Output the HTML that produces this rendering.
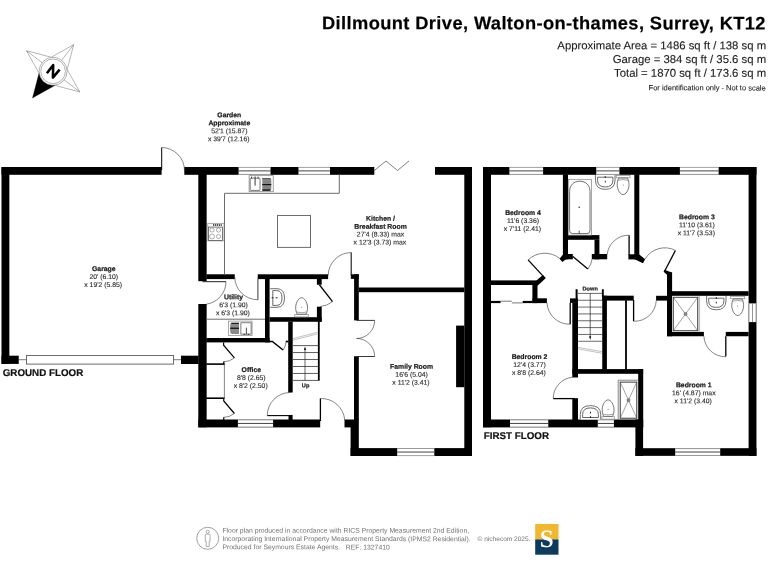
<!DOCTYPE html>
<html>
<head>
<meta charset="utf-8">
<title>Floor plan - Dillmount Drive</title>
<style>
  html, body { margin: 0; padding: 0; background: #fff; }
  body { width: 768px; height: 576px; position: relative; overflow: hidden;
         font-family: "Liberation Sans", sans-serif; color: #111; }
  svg { position: absolute; left: 0; top: 0; }
  svg.mono { filter: grayscale(1) blur(0.3px); }
  svg text { font-family: "Liberation Sans", sans-serif; text-rendering: geometricPrecision; }
</style>
</head>
<body>
<svg width="768" height="576" viewBox="0 0 768 576">
<g id="logo">
<rect x="535.20" y="524.00" width="23.30" height="15.40" fill="#F1B82D" />
<rect x="535.20" y="539.40" width="23.30" height="15.30" fill="#0D3B5E" />
</g>
</svg>
<svg class="mono" width="768" height="576" viewBox="0 0 768 576">
<g id="compass">
<polygon points="73.71,44.64 67.18,69.50 79.76,91.91 54.90,85.38 32.49,97.96 39.02,73.10 26.44,50.69 51.30,57.22" fill="#fff" stroke="#6a6a6a" stroke-width="0.5"/>
<line x1="53.10" y1="71.30" x2="73.71" y2="44.64" stroke="#6a6a6a" stroke-width="0.5" />
<line x1="53.10" y1="71.30" x2="79.76" y2="91.91" stroke="#6a6a6a" stroke-width="0.5" />
<line x1="53.10" y1="71.30" x2="32.49" y2="97.96" stroke="#6a6a6a" stroke-width="0.5" />
<line x1="53.10" y1="71.30" x2="26.44" y2="50.69" stroke="#6a6a6a" stroke-width="0.5" />
<polygon points="32.49,97.96 54.90,85.38 53.10,71.30 39.02,73.10" fill="#000"/>
<circle cx="53.1" cy="71.3" r="14.0" fill="#fff" stroke="#666" stroke-width="0.5"/>
<circle cx="53.1" cy="71.3" r="12.3" fill="#fff" stroke="#666" stroke-width="0.5"/>
<path d="M46.9 73.2 L53.2 65.1 L52.9 77.6 L59.6 69.6" stroke="#000" stroke-width="2.5" fill="none" stroke-linejoin="round" stroke-linecap="butt"/>
</g>
<g id="plan" shape-rendering="geometricPrecision">
<rect x="1.50" y="167.00" width="160.10" height="7.80" fill="#000" />
<rect x="1.50" y="167.00" width="7.85" height="196.90" fill="#000" />
<rect x="1.50" y="355.70" width="17.25" height="8.20" fill="#000" />
<rect x="181.00" y="355.70" width="17.60" height="8.30" fill="#000" />
<rect x="26.5" y="355.5" width="147.1" height="8.6" fill="#fff" stroke="#555" stroke-width="0.85"/>
<line x1="18.75" y1="359.70" x2="26.40" y2="359.70" stroke="#444" stroke-width="0.7" />
<line x1="173.60" y1="359.70" x2="181.00" y2="359.70" stroke="#444" stroke-width="0.7" />
<rect x="184.30" y="167.00" width="190.00" height="7.80" fill="#000" />
<rect x="238.60" y="167.00" width="31.90" height="7.80" fill="#fff" />
<line x1="238.60" y1="167.40" x2="270.50" y2="167.40" stroke="#777" stroke-width="0.7" />
<line x1="238.60" y1="170.90" x2="270.50" y2="170.90" stroke="#222" stroke-width="0.85" />
<line x1="238.60" y1="174.40" x2="270.50" y2="174.40" stroke="#777" stroke-width="0.7" />
<rect x="298.50" y="167.00" width="31.50" height="7.80" fill="#fff" />
<line x1="298.50" y1="167.40" x2="330.00" y2="167.40" stroke="#777" stroke-width="0.7" />
<line x1="298.50" y1="170.90" x2="330.00" y2="170.90" stroke="#222" stroke-width="0.85" />
<line x1="298.50" y1="174.40" x2="330.00" y2="174.40" stroke="#777" stroke-width="0.7" />
<rect x="435.00" y="167.00" width="37.00" height="7.80" fill="#000" />
<rect x="464.30" y="167.00" width="7.70" height="289.00" fill="#000" />
<rect x="198.30" y="173.80" width="8.35" height="107.40" fill="#000" />
<rect x="198.30" y="304.00" width="8.35" height="123.25" fill="#000" />
<rect x="198.30" y="419.50" width="121.90" height="7.90" fill="#000" />
<rect x="237.90" y="419.50" width="35.20" height="7.90" fill="#fff" />
<line x1="237.90" y1="419.90" x2="273.10" y2="419.90" stroke="#777" stroke-width="0.7" />
<line x1="237.90" y1="423.45" x2="273.10" y2="423.45" stroke="#222" stroke-width="0.85" />
<line x1="237.90" y1="427.00" x2="273.10" y2="427.00" stroke="#777" stroke-width="0.7" />
<rect x="344.50" y="419.50" width="14.30" height="7.90" fill="#000" />
<rect x="206.30" y="274.30" width="28.45" height="4.80" fill="#000" />
<rect x="257.70" y="274.30" width="70.40" height="4.80" fill="#000" />
<rect x="265.00" y="279.00" width="4.60" height="63.40" fill="#000" />
<rect x="206.30" y="338.00" width="63.30" height="4.40" fill="#000" />
<rect x="316.90" y="279.00" width="4.80" height="5.75" fill="#000" />
<rect x="316.90" y="306.70" width="4.80" height="15.00" fill="#000" />
<rect x="269.50" y="317.20" width="52.20" height="4.55" fill="#000" />
<rect x="288.20" y="321.60" width="4.50" height="70.90" fill="#000" />
<rect x="317.90" y="321.60" width="1.80" height="59.10" fill="#000" />
<rect x="288.50" y="415.00" width="4.10" height="5.00" fill="#000" />
<rect x="350.80" y="274.30" width="8.00" height="4.60" fill="#000" />
<rect x="354.10" y="274.30" width="4.70" height="46.10" fill="#000" />
<rect x="354.00" y="356.30" width="4.80" height="63.70" fill="#000" />
<rect x="358.75" y="287.50" width="105.65" height="4.70" fill="#000" />
<rect x="456.10" y="325.60" width="8.30" height="61.60" fill="#000" />
<rect x="350.60" y="448.10" width="121.40" height="7.90" fill="#000" />
<rect x="397.20" y="448.10" width="37.10" height="7.90" fill="#fff" />
<line x1="397.20" y1="448.50" x2="434.30" y2="448.50" stroke="#777" stroke-width="0.7" />
<line x1="397.20" y1="452.05" x2="434.30" y2="452.05" stroke="#222" stroke-width="0.85" />
<line x1="397.20" y1="455.60" x2="434.30" y2="455.60" stroke="#777" stroke-width="0.7" />
<rect x="350.60" y="426.90" width="8.20" height="29.10" fill="#000" />
<line x1="161.70" y1="147.50" x2="161.70" y2="170.00" stroke="#000" stroke-width="1.0" />
<path d="M161.6 147.5 A23 23 0 0 1 184.5 170.5" stroke="#3a3a3a" stroke-width="0.62" fill="none" />
<path d="M374.3 170.5 L386 161 L397.5 170.5 L409 161" stroke="#3a3a3a" stroke-width="0.65" fill="none" />
<line x1="202.50" y1="281.70" x2="226.00" y2="281.70" stroke="#222" stroke-width="1.0" />
<path d="M226 281.6 A23 23 0 0 1 206.3 304.2" stroke="#3a3a3a" stroke-width="0.62" fill="none" />
<line x1="257.90" y1="279.00" x2="257.90" y2="299.75" stroke="#222" stroke-width="0.9" />
<path d="M234.75 277 A23 23 0 0 0 257.9 299.75" stroke="#3a3a3a" stroke-width="0.62" fill="none" />
<line x1="351.20" y1="252.60" x2="351.20" y2="275.00" stroke="#111" stroke-width="1.1" />
<path d="M351.2 252.6 A23 23 0 0 0 328.2 275.5" stroke="#3a3a3a" stroke-width="0.62" fill="none" />
<line x1="319.40" y1="284.75" x2="332.50" y2="301.60" stroke="#000" stroke-width="1.3" />
<path d="M332.5 301.6 A21.3 21.3 0 0 1 320 306.5" stroke="#3a3a3a" stroke-width="0.62" fill="none" />
<line x1="356.50" y1="320.40" x2="374.70" y2="320.40" stroke="#222" stroke-width="0.9" />
<line x1="356.50" y1="356.50" x2="374.70" y2="356.50" stroke="#222" stroke-width="0.9" />
<path d="M374.7 320.4 A18.2 18.2 0 0 1 356.5 338.5" stroke="#3a3a3a" stroke-width="0.62" fill="none" />
<path d="M374.7 356.5 A18.2 18.2 0 0 0 356.5 338.4" stroke="#3a3a3a" stroke-width="0.62" fill="none" />
<line x1="320.40" y1="398.50" x2="320.40" y2="421.00" stroke="#000" stroke-width="1.3" />
<path d="M320.4 398.5 A23.5 23.5 0 0 1 344.75 420" stroke="#3a3a3a" stroke-width="0.62" fill="none" />
<line x1="267.25" y1="415.60" x2="290.50" y2="415.60" stroke="#000" stroke-width="1.1" />
<path d="M267.25 415.6 A23 23 0 0 1 290.5 392.5" stroke="#3a3a3a" stroke-width="0.62" fill="none" />
<path d="M269 341.4 L272.3 341.4 L283.1 350" stroke="#000" stroke-width="1.5" fill="none" />
<path d="M283.1 350 A15 15 0 0 0 286 341.6" stroke="#3a3a3a" stroke-width="0.62" fill="none" />
<line x1="285.80" y1="341.50" x2="288.40" y2="341.50" stroke="#000" stroke-width="1.7" />
<path d="M223.6 342.5 L223.6 345.2 L234.4 357.9" stroke="#000" stroke-width="1.2" fill="none" />
<path d="M234.4 357.9 A18 18 0 0 1 223.8 361.8" stroke="#3a3a3a" stroke-width="0.62" fill="none" />
<line x1="223.80" y1="361.60" x2="223.80" y2="364.80" stroke="#000" stroke-width="1.3" />
<line x1="206.30" y1="364.10" x2="224.50" y2="364.10" stroke="#000" stroke-width="1.6" />
<line x1="224.40" y1="364.10" x2="224.40" y2="398.30" stroke="#3a3a3a" stroke-width="0.62" />
<line x1="206.30" y1="398.20" x2="224.50" y2="398.20" stroke="#000" stroke-width="1.6" />
<path d="M223.75 398.5 L223.75 401 L234.4 413.5" stroke="#000" stroke-width="1.2" fill="none" />
<path d="M234.4 413.5 A18 18 0 0 1 223.75 417.4" stroke="#3a3a3a" stroke-width="0.62" fill="none" />
<line x1="223.75" y1="417.20" x2="223.75" y2="420.00" stroke="#000" stroke-width="1.2" />
<path d="M339.3 174.6 L339.3 193.3 L224.5 193.3 L224.5 274.5" stroke="#6c6c6c" stroke-width="1.0" fill="none" />
<line x1="206.30" y1="319.20" x2="265.00" y2="319.20" stroke="#6c6c6c" stroke-width="1.0" />
<rect x="277.5" y="215.5" width="33.0" height="31.9" fill="none" stroke="#6c6c6c" stroke-width="1.0"/>
<rect x="249.1" y="175.7" width="24.1" height="16" fill="#fff" stroke="#777" stroke-width="0.7"/>
<rect x="250.2" y="178.2" width="9.8" height="12.2" rx="0.8" fill="#fff" stroke="#555" stroke-width="0.8"/>
<line x1="255.10" y1="176.50" x2="255.10" y2="185.60" stroke="#222" stroke-width="0.9" />
<line x1="251.60" y1="176.70" x2="251.60" y2="178.40" stroke="#333" stroke-width="1.0" />
<line x1="258.10" y1="176.70" x2="258.10" y2="178.40" stroke="#333" stroke-width="1.0" />
<path d="M262.3 178.1 H269.6 Q271.3 178.1 271.3 180 V189 Q271.3 190.8 269.6 190.8 H262.3 Z" fill="#858585"/>
<rect x="262.30" y="178.10" width="8.30" height="0.90" fill="#555" />
<rect x="262.30" y="184.00" width="9.00" height="1.20" fill="#111" />
<rect x="262.30" y="189.40" width="8.10" height="1.40" fill="#111" />
<rect x="207.8" y="223.3" width="16.2" height="17.6" fill="#fff" stroke="#888" stroke-width="0.7"/>
<rect x="208.5" y="227.1" width="13.9" height="13.3" fill="#fff" stroke="#555" stroke-width="0.8"/>
<line x1="213.00" y1="225.05" x2="222.00" y2="225.05" stroke="#555" stroke-width="1.9" stroke-dasharray="1.25 0.65"/>
<circle cx="212.0" cy="230.0" r="2.1" fill="none" stroke="#777" stroke-width="0.6"/>
<circle cx="218.5" cy="230.0" r="2.1" fill="none" stroke="#777" stroke-width="0.6"/>
<circle cx="212.0" cy="236.5" r="2.5" fill="none" stroke="#777" stroke-width="0.6"/>
<circle cx="218.5" cy="236.5" r="2.1" fill="none" stroke="#777" stroke-width="0.6"/>
<rect x="228.5" y="321.1" width="23.6" height="14.4" fill="#fff" stroke="#888" stroke-width="0.7"/>
<rect x="240.9" y="322.8" width="10.2" height="11.3" fill="#fff" stroke="#444" stroke-width="0.7"/>
<path d="M239 322.8 H232.3 Q230.2 322.8 230.2 325 V332 Q230.2 334.1 232.3 334.1 H239 Z" fill="#8a8a8a"/>
<rect x="230.20" y="327.60" width="8.80" height="1.30" fill="#111" />
<rect x="231.20" y="322.80" width="7.80" height="1.10" fill="#111" />
<line x1="246.40" y1="327.60" x2="246.40" y2="334.40" stroke="#222" stroke-width="0.8" />
<line x1="243.60" y1="334.30" x2="245.00" y2="334.30" stroke="#222" stroke-width="0.9" />
<line x1="247.80" y1="334.30" x2="249.20" y2="334.30" stroke="#222" stroke-width="0.9" />
<path d="M270.2 288.7 H277 Q284.5 288.7 284.5 298 Q284.5 307.3 277 307.3 H270.2" stroke="#707070" stroke-width="1.0" fill="none" />
<path d="M272.8 290.6 H276.8 Q282 290.6 282 298 Q282 305.4 276.8 305.4 H272.8 Z" stroke="#666" stroke-width="1.0" fill="none" />
<line x1="271.60" y1="297.80" x2="273.60" y2="297.80" stroke="#222" stroke-width="1" />
<line x1="275.60" y1="297.80" x2="277.60" y2="297.80" stroke="#222" stroke-width="1" />
<rect x="294.70" y="314.50" width="13.8" height="2.40" fill="#fff" stroke="#8a8a8a" stroke-width="0.7"/>
<path d="M297.10 314.20 C296.00 311.40 295.60 309.40 295.70 307.00 C296.00 301.80 299.00 297.70 301.60 297.70 C304.20 297.70 307.20 301.80 307.50 307.00 C307.60 309.40 307.20 311.40 306.10 314.20 Z" stroke="#4a4a4a" stroke-width="0.75" fill="#fff" />
<path d="M296.70 312.00 Q301.60 313.50 306.50 312.00" stroke="#666" stroke-width="0.6" fill="none" />
<circle cx="301.60" cy="307.20" r="0.55" fill="#777"/>
<line x1="292.90" y1="345.60" x2="318.00" y2="345.60" stroke="#333" stroke-width="0.8" />
<line x1="292.90" y1="352.56" x2="318.00" y2="352.56" stroke="#333" stroke-width="0.8" />
<line x1="292.90" y1="359.52" x2="318.00" y2="359.52" stroke="#333" stroke-width="0.8" />
<line x1="292.90" y1="366.48" x2="318.00" y2="366.48" stroke="#333" stroke-width="0.8" />
<line x1="292.90" y1="373.44" x2="318.00" y2="373.44" stroke="#333" stroke-width="0.8" />
<line x1="292.90" y1="380.40" x2="318.00" y2="380.40" stroke="#333" stroke-width="0.8" />
<line x1="292.90" y1="338.60" x2="317.50" y2="332.30" stroke="#777" stroke-width="0.45" />
<line x1="292.90" y1="340.20" x2="317.50" y2="333.90" stroke="#777" stroke-width="0.45" />
<line x1="305.00" y1="380.40" x2="305.00" y2="348.00" stroke="#222" stroke-width="0.7" />
<polygon points="305.00,346.20 304.00,350.00 306.00,350.00" fill="#111"/>
<rect x="483.00" y="167.00" width="273.45" height="7.80" fill="#000" />
<rect x="509.40" y="167.00" width="33.70" height="7.80" fill="#fff" />
<line x1="509.40" y1="167.40" x2="543.10" y2="167.40" stroke="#777" stroke-width="0.7" />
<line x1="509.40" y1="170.90" x2="543.10" y2="170.90" stroke="#222" stroke-width="0.85" />
<line x1="509.40" y1="174.40" x2="543.10" y2="174.40" stroke="#777" stroke-width="0.7" />
<rect x="596.25" y="167.00" width="23.15" height="7.80" fill="#fff" />
<line x1="596.25" y1="167.40" x2="619.40" y2="167.40" stroke="#777" stroke-width="0.7" />
<line x1="596.25" y1="170.90" x2="619.40" y2="170.90" stroke="#222" stroke-width="0.85" />
<line x1="596.25" y1="174.40" x2="619.40" y2="174.40" stroke="#777" stroke-width="0.7" />
<rect x="679.90" y="167.00" width="38.70" height="7.80" fill="#fff" />
<line x1="679.90" y1="167.40" x2="718.60" y2="167.40" stroke="#777" stroke-width="0.7" />
<line x1="679.90" y1="170.90" x2="718.60" y2="170.90" stroke="#222" stroke-width="0.85" />
<line x1="679.90" y1="174.40" x2="718.60" y2="174.40" stroke="#777" stroke-width="0.7" />
<rect x="483.00" y="167.00" width="8.00" height="260.25" fill="#000" />
<rect x="748.60" y="167.00" width="7.85" height="288.85" fill="#000" />
<rect x="748.60" y="303.40" width="7.85" height="18.70" fill="#fff" />
<line x1="748.95" y1="303.40" x2="748.95" y2="322.10" stroke="#666" stroke-width="0.7" />
<line x1="752.53" y1="303.40" x2="752.53" y2="322.10" stroke="#666" stroke-width="0.7" />
<line x1="756.10" y1="303.40" x2="756.10" y2="322.10" stroke="#666" stroke-width="0.7" />
<rect x="483.00" y="419.50" width="160.10" height="7.90" fill="#000" />
<rect x="510.00" y="419.50" width="38.25" height="7.90" fill="#fff" />
<line x1="510.00" y1="419.90" x2="548.25" y2="419.90" stroke="#777" stroke-width="0.7" />
<line x1="510.00" y1="423.45" x2="548.25" y2="423.45" stroke="#222" stroke-width="0.85" />
<line x1="510.00" y1="427.00" x2="548.25" y2="427.00" stroke="#777" stroke-width="0.7" />
<rect x="597.80" y="419.50" width="16.10" height="7.90" fill="#fff" />
<line x1="597.80" y1="419.90" x2="613.90" y2="419.90" stroke="#777" stroke-width="0.7" />
<line x1="597.80" y1="423.45" x2="613.90" y2="423.45" stroke="#222" stroke-width="0.85" />
<line x1="597.80" y1="427.00" x2="613.90" y2="427.00" stroke="#777" stroke-width="0.7" />
<rect x="635.40" y="419.50" width="7.70" height="36.35" fill="#000" />
<rect x="635.40" y="448.20" width="121.05" height="7.65" fill="#000" />
<rect x="675.20" y="448.20" width="45.00" height="7.65" fill="#fff" />
<line x1="675.20" y1="448.60" x2="720.20" y2="448.60" stroke="#777" stroke-width="0.7" />
<line x1="675.20" y1="452.02" x2="720.20" y2="452.02" stroke="#222" stroke-width="0.85" />
<line x1="675.20" y1="455.45" x2="720.20" y2="455.45" stroke="#777" stroke-width="0.7" />
<rect x="562.90" y="174.30" width="5.10" height="85.00" fill="#000" />
<rect x="567.70" y="235.10" width="31.70" height="4.70" fill="#000" />
<rect x="594.50" y="239.80" width="4.90" height="19.50" fill="#000" />
<rect x="562.90" y="254.00" width="9.90" height="5.30" fill="#000" />
<polygon points="563.10,254.40 559.50,258.70 562.40,262.00 566.00,259.30" fill="#000"/>
<rect x="591.80" y="254.00" width="15.40" height="5.30" fill="#000" />
<rect x="634.30" y="174.30" width="5.00" height="84.70" fill="#000" />
<rect x="628.40" y="254.30" width="7.60" height="5.10" fill="#000" />
<polygon points="639.30,254.60 645.10,259.20 643.00,263.30 635.20,259.40 634.40,259.40 634.40,254.40" fill="#000"/>
<rect x="491.00" y="280.40" width="46.50" height="4.60" fill="#000" />
<polygon points="536.40,280.40 542.90,274.90 545.90,278.00 537.50,285.70 536.00,285.00" fill="#000"/>
<rect x="532.40" y="284.25" width="5.10" height="18.85" fill="#000" />
<rect x="532.50" y="298.30" width="14.40" height="4.80" fill="#000" />
<rect x="491.00" y="300.90" width="9.60" height="2.20" fill="#000" />
<line x1="500.60" y1="301.20" x2="511.80" y2="301.20" stroke="#555" stroke-width="0.8" />
<line x1="511.80" y1="302.90" x2="522.70" y2="302.90" stroke="#555" stroke-width="0.8" />
<rect x="522.70" y="300.90" width="10.00" height="2.20" fill="#000" />
<rect x="575.60" y="289.25" width="2.00" height="9.75" fill="#000" />
<rect x="570.00" y="298.40" width="8.00" height="4.50" fill="#000" />
<rect x="572.30" y="302.75" width="5.70" height="74.75" fill="#000" />
<rect x="572.30" y="398.20" width="5.70" height="21.80" fill="#000" />
<rect x="601.90" y="289.25" width="1.85" height="7.25" fill="#000" />
<rect x="602.25" y="295.70" width="4.65" height="73.80" fill="#000" />
<rect x="602.25" y="295.70" width="31.50" height="4.90" fill="#000" />
<rect x="572.30" y="369.10" width="70.80" height="4.70" fill="#000" />
<rect x="638.20" y="369.10" width="5.00" height="58.15" fill="#000" />
<rect x="625.10" y="300.25" width="1.80" height="69.25" fill="#000" />
<rect x="656.10" y="295.80" width="15.90" height="4.80" fill="#000" />
<rect x="667.00" y="272.40" width="5.10" height="63.85" fill="#000" />
<polygon points="664.30,269.70 671.90,272.40 671.90,275.00 667.30,275.00 663.60,271.80" fill="#000"/>
<rect x="671.90" y="291.20" width="76.70" height="4.60" fill="#000" />
<rect x="667.30" y="331.90" width="36.60" height="4.35" fill="#000" />
<rect x="725.75" y="331.90" width="22.85" height="4.35" fill="#000" />
<line x1="528.10" y1="259.90" x2="543.10" y2="276.10" stroke="#000" stroke-width="1.3" />
<path d="M528.1 259.9 A24 24 0 0 1 559.9 258.6" stroke="#3a3a3a" stroke-width="0.62" fill="none" />
<line x1="572.50" y1="256.30" x2="587.90" y2="269.00" stroke="#000" stroke-width="1.3" />
<path d="M587.9 269 A19.5 19.5 0 0 0 592 259.3" stroke="#3a3a3a" stroke-width="0.62" fill="none" />
<line x1="629.10" y1="235.20" x2="629.10" y2="254.90" stroke="#000" stroke-width="1.3" />
<path d="M628.9 235.2 A21.7 21.7 0 0 0 607.2 254.3" stroke="#3a3a3a" stroke-width="0.62" fill="none" />
<line x1="675.40" y1="250.50" x2="665.00" y2="270.50" stroke="#000" stroke-width="1.3" />
<path d="M645.0 259.0 A23.2 23.2 0 0 1 675.5 250.4" stroke="#3a3a3a" stroke-width="0.62" fill="none" />
<line x1="570.20" y1="302.75" x2="570.20" y2="324.20" stroke="#000" stroke-width="1.3" />
<path d="M547 302.75 A22.5 22.5 0 0 0 570.2 324.2" stroke="#3a3a3a" stroke-width="0.62" fill="none" />
<line x1="633.60" y1="300.00" x2="633.60" y2="321.30" stroke="#000" stroke-width="1.3" />
<path d="M634.2 321.3 A21.7 21.7 0 0 0 656.25 300.3" stroke="#3a3a3a" stroke-width="0.62" fill="none" />
<line x1="725.80" y1="336.25" x2="725.80" y2="356.50" stroke="#000" stroke-width="1.3" />
<path d="M703.9 336.25 A21.5 21.5 0 0 0 725.8 356.8" stroke="#3a3a3a" stroke-width="0.62" fill="none" />
<line x1="553.20" y1="398.60" x2="575.00" y2="398.60" stroke="#000" stroke-width="1.3" />
<path d="M553.2 398.4 A21.5 21.5 0 0 1 572.6 377.2" stroke="#3a3a3a" stroke-width="0.62" fill="none" />
<line x1="578.00" y1="293.40" x2="602.30" y2="293.40" stroke="#3a3a3a" stroke-width="0.75" />
<line x1="578.00" y1="300.24" x2="602.30" y2="300.24" stroke="#3a3a3a" stroke-width="0.75" />
<line x1="578.00" y1="307.08" x2="602.30" y2="307.08" stroke="#3a3a3a" stroke-width="0.75" />
<line x1="578.00" y1="313.92" x2="602.30" y2="313.92" stroke="#3a3a3a" stroke-width="0.75" />
<line x1="578.00" y1="320.76" x2="602.30" y2="320.76" stroke="#3a3a3a" stroke-width="0.75" />
<line x1="578.00" y1="327.60" x2="602.30" y2="327.60" stroke="#3a3a3a" stroke-width="0.75" />
<line x1="578.00" y1="334.44" x2="602.30" y2="334.44" stroke="#3a3a3a" stroke-width="0.75" />
<line x1="578.00" y1="341.28" x2="602.30" y2="341.28" stroke="#3a3a3a" stroke-width="0.75" />
<line x1="590.20" y1="293.40" x2="590.20" y2="338.00" stroke="#222" stroke-width="0.7" />
<polygon points="590.20,340.00 589.20,336.20 591.20,336.20" fill="#111"/>
<line x1="578.00" y1="347.30" x2="602.30" y2="351.70" stroke="#777" stroke-width="0.45" />
<line x1="578.00" y1="348.90" x2="602.30" y2="353.30" stroke="#777" stroke-width="0.45" />
<rect x="568.3" y="179.3" width="23.2" height="55.8" fill="#fff" stroke="#808080" stroke-width="0.7"/>
<path d="M569.6 230.6 V191.4 C569.6 185.4 573.6 181.2 579.8 181.2 C586 181.2 590 185.4 590 191.4 V230.6 Q590 233.6 587 233.6 H572.6 Q569.6 233.6 569.6 230.6 Z" stroke="#4a4a4a" stroke-width="0.8" fill="#fff" />
<circle cx="579.2" cy="207.3" r="0.8" fill="#333"/>
<line x1="579.20" y1="230.60" x2="579.20" y2="233.80" stroke="#333" stroke-width="0.8" />
<path d="M595.45 175.00 V180.04 Q595.45 189.40 605.25 189.40 Q615.05 189.40 615.05 180.04 V175.00" stroke="#707070" stroke-width="1.0" fill="#fff" />
<path d="M597.55 177.20 H612.95 V180.14 Q612.95 187.00 605.25 187.00 Q597.55 187.00 597.55 180.14 Z" stroke="#666" stroke-width="1.0" fill="#fff" />
<line x1="605.25" y1="176.20" x2="605.25" y2="178.00" stroke="#222" stroke-width="1" />
<line x1="605.25" y1="180.80" x2="605.25" y2="182.40" stroke="#222" stroke-width="1" />
<rect x="616.20" y="175.40" width="13.8" height="2.40" fill="#fff" stroke="#8a8a8a" stroke-width="0.7"/>
<path d="M618.60 178.10 C617.50 180.90 617.10 182.90 617.20 185.30 C617.50 190.50 620.50 194.60 623.10 194.60 C625.70 194.60 628.70 190.50 629.00 185.30 C629.10 182.90 628.70 180.90 627.60 178.10 Z" stroke="#4a4a4a" stroke-width="0.75" fill="#fff" />
<path d="M618.20 180.30 Q623.10 178.80 628.00 180.30" stroke="#666" stroke-width="0.6" fill="none" />
<circle cx="623.10" cy="185.10" r="0.55" fill="#777"/>
<rect x="673.30" y="297.30" width="24.40" height="33.40" fill="#fff" stroke="#333" stroke-width="0.9"/>
<line x1="673.30" y1="297.30" x2="697.70" y2="330.70" stroke="#555" stroke-width="0.55" />
<line x1="673.30" y1="330.70" x2="697.70" y2="297.30" stroke="#555" stroke-width="0.55" />
<rect x="684.00" y="312.50" width="3" height="3" rx="0.9" fill="#8a8a8a" stroke="#555" stroke-width="0.4"/>
<rect x="698.20" y="296.20" width="1.90" height="35.40" fill="#bdbdbd" />
<path d="M706.60 296.00 V300.83 Q706.60 309.80 716.30 309.80 Q726.00 309.80 726.00 300.83 V296.00" stroke="#707070" stroke-width="1.0" fill="#fff" />
<path d="M708.70 298.20 H723.90 V300.96 Q723.90 307.40 716.30 307.40 Q708.70 307.40 708.70 300.96 Z" stroke="#666" stroke-width="1.0" fill="#fff" />
<line x1="716.30" y1="297.20" x2="716.30" y2="299.00" stroke="#222" stroke-width="1" />
<line x1="716.30" y1="301.80" x2="716.30" y2="303.40" stroke="#222" stroke-width="1" />
<rect x="730.65" y="296.30" width="14.1" height="2.40" fill="#fff" stroke="#8a8a8a" stroke-width="0.7"/>
<path d="M733.20 299.00 C732.10 301.80 731.70 303.80 731.80 306.20 C732.10 311.40 735.10 315.50 737.70 315.50 C740.30 315.50 743.30 311.40 743.60 306.20 C743.70 303.80 743.30 301.80 742.20 299.00 Z" stroke="#4a4a4a" stroke-width="0.75" fill="#fff" />
<path d="M732.80 301.20 Q737.70 299.70 742.60 301.20" stroke="#666" stroke-width="0.6" fill="none" />
<circle cx="737.70" cy="306.00" r="0.55" fill="#777"/>
<path d="M618.2 419.5 V380.2 H638.2" stroke="#555" stroke-width="0.7" fill="none" />
<rect x="620.20" y="382.10" width="16.60" height="36.10" fill="#fff" stroke="#222" stroke-width="0.9"/>
<line x1="620.20" y1="382.10" x2="636.80" y2="418.20" stroke="#555" stroke-width="0.55" />
<line x1="620.20" y1="418.20" x2="636.80" y2="382.10" stroke="#555" stroke-width="0.55" />
<rect x="627.00" y="398.65" width="3" height="3" rx="0.9" fill="#8a8a8a" stroke="#555" stroke-width="0.4"/>
<path d="M580.30 419.40 V414.57 Q580.30 405.60 590.50 405.60 Q600.70 405.60 600.70 414.57 V419.40" stroke="#707070" stroke-width="1.0" fill="#fff" />
<path d="M582.60 417.50 H598.40 V414.62 Q598.40 407.90 590.50 407.90 Q582.60 407.90 582.60 414.62 Z" stroke="#666" stroke-width="1.0" fill="#fff" />
<line x1="590.50" y1="418.00" x2="590.50" y2="416.20" stroke="#222" stroke-width="1" />
<line x1="590.50" y1="413.40" x2="590.50" y2="411.80" stroke="#222" stroke-width="1" />
<rect x="601.90" y="416.70" width="12.4" height="2.40" fill="#fff" stroke="#8a8a8a" stroke-width="0.7"/>
<path d="M603.60 416.40 C602.50 413.60 602.10 411.60 602.20 409.20 C602.50 404.00 605.50 399.90 608.10 399.90 C610.70 399.90 613.70 404.00 614.00 409.20 C614.10 411.60 613.70 413.60 612.60 416.40 Z" stroke="#4a4a4a" stroke-width="0.75" fill="#fff" />
<path d="M603.20 414.20 Q608.10 415.70 613.00 414.20" stroke="#666" stroke-width="0.6" fill="none" />
<circle cx="608.10" cy="409.40" r="0.55" fill="#777"/>
</g>
<g id="labels">
<text x="233.50" y="299.27" font-size="6.85" font-weight="700" fill="#1a1a1a" stroke="#1a1a1a" stroke-width="0.22" text-anchor="middle" transform="rotate(0.04 233.50 299.27)">Utility</text>
<text x="233.50" y="307.22" font-size="6.85" font-weight="400" fill="#2a2a2a" stroke="#2a2a2a" stroke-width="0.12" text-anchor="middle" transform="rotate(0.04 233.50 307.22)">6'3 (1.90)</text>
<text x="232.90" y="315.17" font-size="6.85" font-weight="400" fill="#2a2a2a" stroke="#2a2a2a" stroke-width="0.12" text-anchor="middle" transform="rotate(0.04 232.90 315.17)">x 6'3 (1.90)</text>
<text x="251.30" y="372.07" font-size="6.85" font-weight="700" fill="#1a1a1a" stroke="#1a1a1a" stroke-width="0.22" text-anchor="middle" transform="rotate(0.04 251.30 372.07)">Office</text>
<text x="251.30" y="380.02" font-size="6.85" font-weight="400" fill="#2a2a2a" stroke="#2a2a2a" stroke-width="0.12" text-anchor="middle" transform="rotate(0.04 251.30 380.02)">8'8 (2.65)</text>
<text x="250.70" y="387.97" font-size="6.85" font-weight="400" fill="#2a2a2a" stroke="#2a2a2a" stroke-width="0.12" text-anchor="middle" transform="rotate(0.04 250.70 387.97)">x 8'2 (2.50)</text>
<text x="380.50" y="220.72" font-size="6.85" font-weight="700" fill="#1a1a1a" stroke="#1a1a1a" stroke-width="0.22" text-anchor="middle" transform="rotate(0.04 380.50 220.72)">Kitchen /</text>
<text x="380.50" y="228.67" font-size="6.85" font-weight="700" fill="#1a1a1a" stroke="#1a1a1a" stroke-width="0.22" text-anchor="middle" transform="rotate(0.04 380.50 228.67)">Breakfast Room</text>
<text x="380.50" y="236.62" font-size="6.85" font-weight="400" fill="#2a2a2a" stroke="#2a2a2a" stroke-width="0.12" text-anchor="middle" transform="rotate(0.04 380.50 236.62)">27'4 (8.33) max</text>
<text x="379.90" y="244.57" font-size="6.85" font-weight="400" fill="#2a2a2a" stroke="#2a2a2a" stroke-width="0.12" text-anchor="middle" transform="rotate(0.04 379.90 244.57)">x 12'3 (3.73) max</text>
<text x="411.60" y="368.87" font-size="6.85" font-weight="700" fill="#1a1a1a" stroke="#1a1a1a" stroke-width="0.22" text-anchor="middle" transform="rotate(0.04 411.60 368.87)">Family Room</text>
<text x="411.60" y="376.82" font-size="6.85" font-weight="400" fill="#2a2a2a" stroke="#2a2a2a" stroke-width="0.12" text-anchor="middle" transform="rotate(0.04 411.60 376.82)">16'6 (5.04)</text>
<text x="411.00" y="384.77" font-size="6.85" font-weight="400" fill="#2a2a2a" stroke="#2a2a2a" stroke-width="0.12" text-anchor="middle" transform="rotate(0.04 411.00 384.77)">x 11'2 (3.41)</text>
<text x="103.80" y="271.07" font-size="6.85" font-weight="700" fill="#1a1a1a" stroke="#1a1a1a" stroke-width="0.22" text-anchor="middle" transform="rotate(0.04 103.80 271.07)">Garage</text>
<text x="103.80" y="279.02" font-size="6.85" font-weight="400" fill="#2a2a2a" stroke="#2a2a2a" stroke-width="0.12" text-anchor="middle" transform="rotate(0.04 103.80 279.02)">20' (6.10)</text>
<text x="103.20" y="286.97" font-size="6.85" font-weight="400" fill="#2a2a2a" stroke="#2a2a2a" stroke-width="0.12" text-anchor="middle" transform="rotate(0.04 103.20 286.97)">x 19'2 (5.85)</text>
<text x="229.30" y="117.37" font-size="6.85" font-weight="700" fill="#1a1a1a" stroke="#1a1a1a" stroke-width="0.22" text-anchor="middle" transform="rotate(0.04 229.30 117.37)">Garden</text>
<text x="229.30" y="125.32" font-size="6.85" font-weight="700" fill="#1a1a1a" stroke="#1a1a1a" stroke-width="0.22" text-anchor="middle" transform="rotate(0.04 229.30 125.32)">Approximate</text>
<text x="229.30" y="133.27" font-size="6.85" font-weight="400" fill="#2a2a2a" stroke="#2a2a2a" stroke-width="0.12" text-anchor="middle" transform="rotate(0.04 229.30 133.27)">52'1 (15.87)</text>
<text x="228.70" y="141.22" font-size="6.85" font-weight="400" fill="#2a2a2a" stroke="#2a2a2a" stroke-width="0.12" text-anchor="middle" transform="rotate(0.04 228.70 141.22)">x 39'7 (12.16)</text>
<text x="523.00" y="215.12" font-size="6.85" font-weight="700" fill="#1a1a1a" stroke="#1a1a1a" stroke-width="0.22" text-anchor="middle" transform="rotate(0.04 523.00 215.12)">Bedroom 4</text>
<text x="523.00" y="223.07" font-size="6.85" font-weight="400" fill="#2a2a2a" stroke="#2a2a2a" stroke-width="0.12" text-anchor="middle" transform="rotate(0.04 523.00 223.07)">11'6 (3.36)</text>
<text x="522.40" y="231.02" font-size="6.85" font-weight="400" fill="#2a2a2a" stroke="#2a2a2a" stroke-width="0.12" text-anchor="middle" transform="rotate(0.04 522.40 231.02)">x 7'11 (2.41)</text>
<text x="696.90" y="219.37" font-size="6.85" font-weight="700" fill="#1a1a1a" stroke="#1a1a1a" stroke-width="0.22" text-anchor="middle" transform="rotate(0.04 696.90 219.37)">Bedroom 3</text>
<text x="696.90" y="227.32" font-size="6.85" font-weight="400" fill="#2a2a2a" stroke="#2a2a2a" stroke-width="0.12" text-anchor="middle" transform="rotate(0.04 696.90 227.32)">11'10 (3.61)</text>
<text x="696.30" y="235.27" font-size="6.85" font-weight="400" fill="#2a2a2a" stroke="#2a2a2a" stroke-width="0.12" text-anchor="middle" transform="rotate(0.04 696.30 235.27)">x 11'7 (3.53)</text>
<text x="529.50" y="359.07" font-size="6.85" font-weight="700" fill="#1a1a1a" stroke="#1a1a1a" stroke-width="0.22" text-anchor="middle" transform="rotate(0.04 529.50 359.07)">Bedroom 2</text>
<text x="529.50" y="367.02" font-size="6.85" font-weight="400" fill="#2a2a2a" stroke="#2a2a2a" stroke-width="0.12" text-anchor="middle" transform="rotate(0.04 529.50 367.02)">12'4 (3.77)</text>
<text x="528.90" y="374.97" font-size="6.85" font-weight="400" fill="#2a2a2a" stroke="#2a2a2a" stroke-width="0.12" text-anchor="middle" transform="rotate(0.04 528.90 374.97)">x 8'8 (2.64)</text>
<text x="693.80" y="387.27" font-size="6.85" font-weight="700" fill="#1a1a1a" stroke="#1a1a1a" stroke-width="0.22" text-anchor="middle" transform="rotate(0.04 693.80 387.27)">Bedroom 1</text>
<text x="693.80" y="395.22" font-size="6.85" font-weight="400" fill="#2a2a2a" stroke="#2a2a2a" stroke-width="0.12" text-anchor="middle" transform="rotate(0.04 693.80 395.22)">16' (4.87) max</text>
<text x="693.20" y="403.17" font-size="6.85" font-weight="400" fill="#2a2a2a" stroke="#2a2a2a" stroke-width="0.12" text-anchor="middle" transform="rotate(0.04 693.20 403.17)">x 11'2 (3.40)</text>
<text x="305.60" y="387.32" font-size="5.6" font-weight="700" fill="#1a1a1a" stroke="#1a1a1a" stroke-width="0.22" text-anchor="middle" transform="rotate(0.04 305.60 387.32)">Up</text>
<text x="590.20" y="290.42" font-size="5.6" font-weight="700" fill="#1a1a1a" stroke="#1a1a1a" stroke-width="0.22" text-anchor="middle" transform="rotate(0.04 590.20 290.42)">Down</text>
</g>
<g id="footer-art">
<circle cx="207.7" cy="538.3" r="11.0" fill="none" stroke="#8a8a8a" stroke-width="0.8"/>
<circle cx="207.7" cy="531.8" r="1.55" fill="none" stroke="#8a8a8a" stroke-width="0.7"/>
<path d="M205.3 535.3 Q205.3 534.1 206.5 534.1 H208.9 Q210.1 534.1 210.1 535.3 V541.3 H209.2 V546.5 H206.2 V541.3 H205.3 Z" stroke="#8a8a8a" stroke-width="0.7" fill="none" />
<text x="546.7" y="547.4" style="font-family:'Liberation Serif',serif;font-weight:700" font-size="25" fill="#fff" text-anchor="middle">S</text>
</g>
<g id="text">
<text x="322.00" y="29.15" font-size="18.3" font-weight="700" fill="#000" stroke="#000" stroke-width="0.2" text-anchor="start" letter-spacing="0.39" transform="rotate(0.04 322.00 29.15)">Dillmount Drive, Walton-on-thames, Surrey, KT12</text>
<text x="766.10" y="49.30" font-size="11.34" font-weight="400" fill="#1c1c1c" stroke="#1c1c1c" stroke-width="0.12" text-anchor="end" transform="rotate(0.04 766.10 49.30)">Approximate Area = 1486 sq ft / 138 sq m</text>
<text x="766.10" y="63.10" font-size="11.34" font-weight="400" fill="#1c1c1c" stroke="#1c1c1c" stroke-width="0.12" text-anchor="end" transform="rotate(0.04 766.10 63.10)">Garage = 384 sq ft / 35.6 sq m</text>
<text x="766.10" y="76.85" font-size="11.34" font-weight="400" fill="#1c1c1c" stroke="#1c1c1c" stroke-width="0.12" text-anchor="end" transform="rotate(0.04 766.10 76.85)">Total = 1870 sq ft / 173.6 sq m</text>
<text x="765.70" y="90.40" font-size="7.5" font-weight="400" fill="#1c1c1c" stroke="#1c1c1c" stroke-width="0.1" text-anchor="end" transform="rotate(0.04 765.70 90.40)">For identification only - Not to scale</text>
<text x="2.70" y="376.05" font-size="9.8" font-weight="700" fill="#111" stroke="#111" stroke-width="0.2" text-anchor="start" transform="rotate(0.04 2.70 376.05)">GROUND FLOOR</text>
<text x="483.70" y="439.00" font-size="9.8" font-weight="700" fill="#111" stroke="#111" stroke-width="0.2" text-anchor="start" transform="rotate(0.04 483.70 439.00)">FIRST FLOOR</text>
<text x="222.40" y="532.70" font-size="6.83" font-weight="400" fill="#727272" text-anchor="start" transform="rotate(0.04 222.40 532.70)">Floor plan produced in accordance with RICS Property Measurement 2nd Edition,</text>
<text x="222.40" y="541.00" font-size="6.83" font-weight="400" fill="#727272" text-anchor="start" transform="rotate(0.04 222.40 541.00)">Incorporating International Property Measurement Standards (IPMS2 Residential).</text>
<text x="477.60" y="541.00" font-size="6.55" font-weight="400" fill="#727272" text-anchor="start" transform="rotate(0.04 477.60 541.00)">&#169; nichecom 2025.</text>
<text x="222.40" y="549.30" font-size="6.83" font-weight="400" fill="#727272" text-anchor="start" transform="rotate(0.04 222.40 549.30)">Produced for Seymours Estate Agents.&#160;&#160;&#160;REF: 1327410</text>
</g>
</svg>
</body>
</html>
